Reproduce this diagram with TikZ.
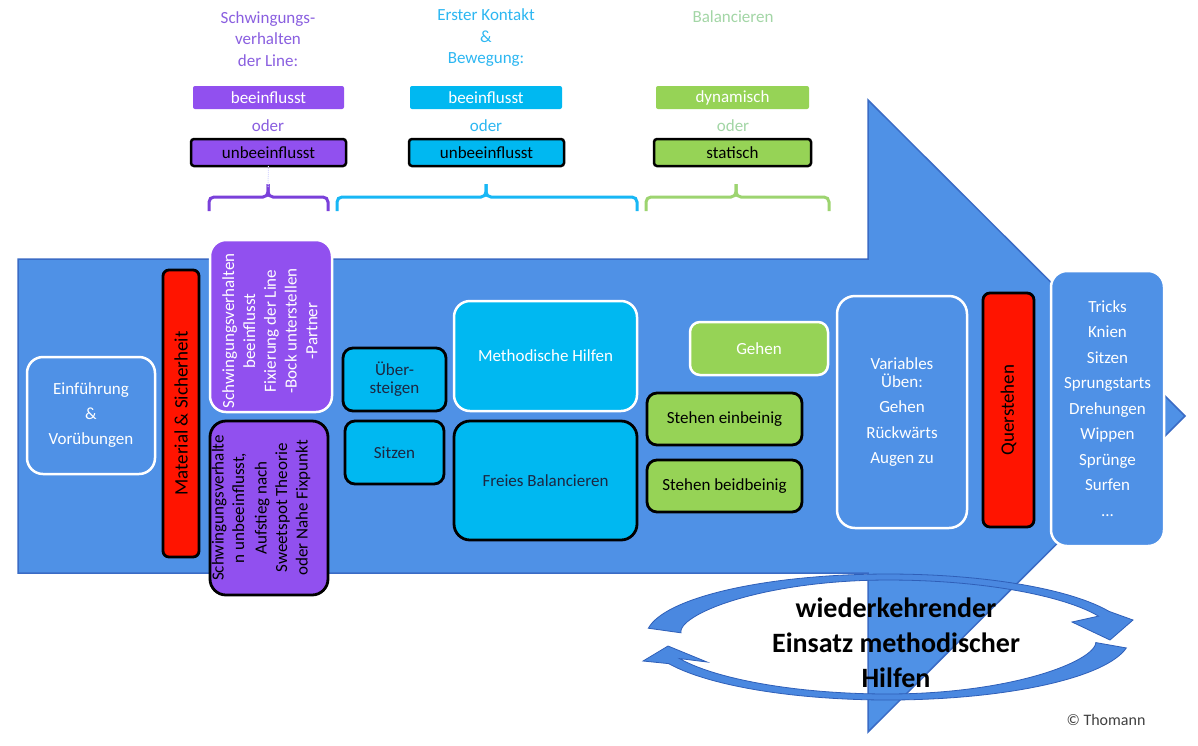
\documentclass[tikz,border=0pt]{standalone}
\usepackage{fontspec}
\setmainfont{Carlito}
\definecolor{abody}{HTML}{4F91E6}
\definecolor{aedge}{HTML}{3A6BC5}
\definecolor{purp}{HTML}{9150EF}
\definecolor{cyanb}{HTML}{00B8F1}
\definecolor{greenb}{HTML}{96D356}
\definecolor{redb}{HTML}{FF1400}
\definecolor{hpurp}{HTML}{8A5FE0}
\definecolor{hcyan}{HTML}{2DB7F2}
\definecolor{hgreen}{HTML}{A3D6A6}
\definecolor{bpurp}{HTML}{7A40DA}
\definecolor{bcyan}{HTML}{18B7F5}
\definecolor{bgreen}{HTML}{9DD470}
\definecolor{darktxt}{HTML}{1C2742}
\definecolor{ringblue}{HTML}{4A88E0}
\definecolor{ringedge}{HTML}{2F5FB8}
\newcommand\myfs[2]{\fontsize{#1}{#2}\selectfont}
\begin{document}
\begin{tikzpicture}[x=1pt,y=-1pt,
  declare function={wu(\t)=(\t>90)*(6+27*((\t-90)/82)*((\t-90)/82))+(\t<=90)*(6+6*((90-\t)/68)*((90-\t)/68));
                    wl(\t)=(\t>-90)*(6+25*((\t+90)/80)*((\t+90)/80))+(\t<=-90)*(6+6*((\t+90)/65)*((\t+90)/65));},
  hdr/.style={font=\myfs{17}{21.5}, align=center, inner sep=0pt},
  tbox/.style={inner sep=0pt, outer sep=0pt, align=center, font=\myfs{17}{21}},
  wbox/.style={tbox, draw=white, line width=2.5pt, rounded corners=#1},
  kbox/.style={tbox, draw=black, line width=2.8pt, rounded corners=#1},
  hbox/.style={tbox, rounded corners=2pt, minimum height=23pt},
  bracestyle/.style={line width=3pt, rounded corners=5pt},
  ring/.style={fill=ringblue, draw=ringedge, line width=0.8pt}
]
\useasboundingbox (0,0) rectangle (1198,745);
\fill[white] (0,0) rectangle (1198,745);

% big arrow
\draw[fill=abody, draw=aedge, line width=1.5pt]
  (18,259) -- (868,259) -- (868,100) -- (1185,416) -- (868,732) -- (868,573) -- (18,573) -- cycle;

% headers
\node[hdr, text=hpurp] (hP) at (268,39) {Schwingungs-\\verhalten\\der Line:};
\node[hdr, text=hcyan] (hC) at (486,38) {Erster Kontakt\\\&\\Bewegung:};
\node[hdr, text=hgreen] (hG) at (733,17) {Balancieren};

\node[hbox, fill=purp, text=white, minimum width=151pt] (pb1) at (268.5,97.5) {beeinflusst};
\node[hdr, text=hpurp] (po) at (268,126) {oder};
\node[kbox=3pt, line width=2.5pt, fill=purp, text=black, minimum width=155pt, minimum height=27pt] (pb2) at (268.5,152.5) {unbeeinflusst};

\node[hbox, fill=cyanb, text=white, minimum width=152pt] (cb1) at (486,97.5) {beeinflusst};
\node[hdr, text=hcyan] (co) at (486,126) {oder};
\node[kbox=3pt, line width=2.5pt, fill=cyanb, text=black, minimum width=155pt, minimum height=27pt] (cb2) at (486.5,152.5) {unbeeinflusst};

\node[hbox, fill=greenb, text=white, minimum width=153pt] (gb1) at (732.5,97.5) {dynamisch};
\node[hdr, text=hgreen] (go) at (733,126) {oder};
\node[kbox=3pt, line width=2.5pt, fill=greenb, text=black, minimum width=157pt, minimum height=27pt] (gb2) at (732.5,152.5) {statisch};

% braces
\coordinate (brP) at (268,184);
\coordinate (brC) at (486,184);
\coordinate (brG) at (736,184);
\draw[bracestyle, draw=bpurp] (209,211) -- (209,197) -- (268,197) -- (brP);
\draw[bracestyle, draw=bpurp] (brP) -- (268,197) -- (328,197) -- (328,211);
\draw[bracestyle, draw=bcyan] (337,211) -- (337,197) -- (486,197) -- (brC);
\draw[bracestyle, draw=bcyan] (brC) -- (486,197) -- (637,197) -- (637,211);
\draw[bracestyle, draw=bgreen] (646,211) -- (646,197) -- (736,197) -- (brG);
\draw[bracestyle, draw=bgreen] (brG) -- (736,197) -- (829,197) -- (829,211);
\draw[densely dotted, line width=1pt, draw=blue!15] (pb2.south) -- ([yshift=-3pt]brP);

% inner boxes
\node[wbox=16pt, fill=abody, text=white, minimum width=128pt, minimum height=117pt, font=\myfs{17}{25}] (intro) at (91,415.5) {Einführung\\\&\\Vorübungen};
\node[kbox=6pt, fill=redb, text=black, rotate=90, minimum width=287pt, minimum height=36pt, font=\myfs{19}{22}] (mat) at (181,413.5) {Material \& Sicherheit};

\node[wbox=16pt, fill=purp, minimum width=122pt, minimum height=172pt] (ptop) at (271,326) {};
\node[tbox, rotate=90, text=white, font=\myfs{17}{20.8}] (ptoptxt) at (270,331) {Schwingungsverhalten\\beeinflusst\\Fixierung der Line\\-Bock unterstellen\\-Partner};
\node[kbox=16pt, fill=purp, minimum width=118pt, minimum height=174pt] (pbot) at (269,508) {};
\node[tbox, rotate=90, text=black, font=\myfs{17}{20.5}] (pbottxt) at (261,508) {Schwingungsverhalte\\n unbeeinflusst,\\[2pt]Aufstieg nach\\Sweetspot Theorie\\oder Nahe Fixpunkt};

\node[kbox=10pt, fill=cyanb, text=darktxt, minimum width=103pt, minimum height=63pt, font=\myfs{17}{18}] (ueb) at (394.5,379.5) {Über-\\steigen};
\node[kbox=10pt, fill=cyanb, text=darktxt, minimum width=99pt, minimum height=63pt] (sit) at (394.5,452.5) {Sitzen};
\node[wbox=16pt, fill=cyanb, text=white, minimum width=183pt, minimum height=110pt] (meth) at (545.5,356) {Methodische Hilfen};
\node[kbox=16pt, fill=cyanb, text=darktxt, minimum width=183pt, minimum height=119pt] (frei) at (545.5,480.5) {Freies Balancieren};

\node[wbox=10pt, fill=greenb, text=white, minimum width=138pt, minimum height=53pt] (geh) at (759,348.5) {Gehen};
\node[kbox=10pt, fill=greenb, text=black, minimum width=155pt, minimum height=52pt] (sein) at (724.5,419) {Stehen einbeinig};
\node[kbox=10pt, fill=greenb, text=black, minimum width=155pt, minimum height=52pt] (sbei) at (724.5,486) {Stehen beidbeinig};

\node[wbox=18pt, fill=abody, text=white, minimum width=130pt, minimum height=232pt, font=\myfs{17}{18.5}] (var) at (902,412) {Variables\\Üben:\\[6.5pt]Gehen\\[7.5pt]Rückwärts\\[6.5pt]Augen zu};
\node[kbox=7pt, fill=redb, text=black, rotate=90, minimum width=234pt, minimum height=51pt, font=\myfs{19}{22}] (que) at (1008.5,410) {Querstehen};
\node[wbox=16pt, fill=abody, text=white, minimum width=113pt, minimum height=275pt, font=\myfs{17}{25.5}] (tri) at (1107.5,408.5) {Tricks\\Knien\\Sitzen\\Sprungstarts\\Drehungen\\Wippen\\Sprünge\\Surfen\\...};

% circular arrows
\path[ring] plot[domain=172:24, samples=60, variable=\t] ({888+242*cos(\t)},{637-63*sin(\t)})
  -- (1133,620) -- (1110,640) -- (1072,622)
  -- plot[domain=24:172, samples=60, variable=\t] ({888+(242-wu(\t))*cos(\t)},{637-(63-wu(\t))*sin(\t)}) -- cycle;
\path[ring] plot[domain=-10:-155, samples=60, variable=\t] ({888+242*cos(\t)},{637-63*sin(\t)})
  -- (643,661) -- (668,646) -- (707,662)
  -- plot[domain=-155:-10, samples=60, variable=\t] ({888+(242-wl(\t))*cos(\t)},{637-(63-wl(\t))*sin(\t)}) -- cycle;

\node[tbox, text=black, font=\bfseries\myfs{28}{35}] (wied) at (896,643) {wiederkehrender\\Einsatz methodischer\\Hilfen};
\node[tbox, text=black!75, font=\myfs{16}{18}] (copy) at (1106,720) {© Thomann};
\end{tikzpicture}
\end{document}
